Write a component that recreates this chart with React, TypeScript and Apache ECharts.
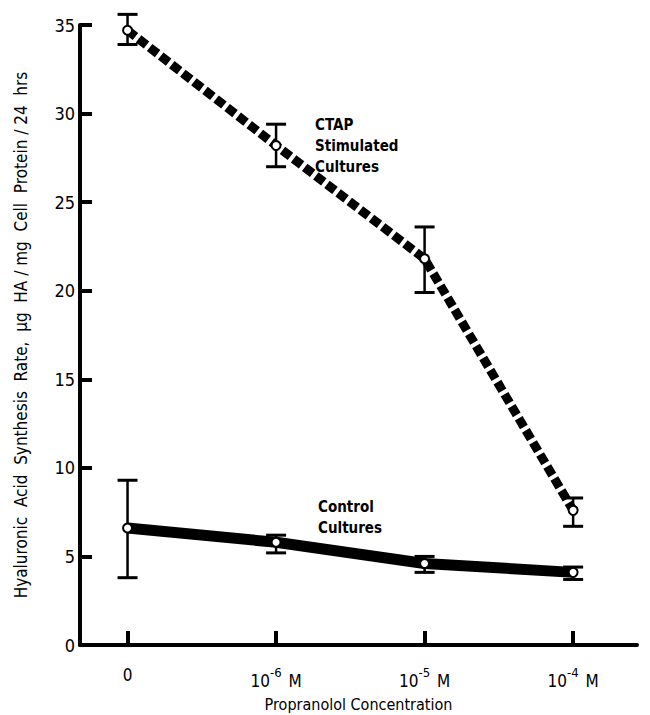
import React, { useEffect, useRef } from "react";
import * as echarts from "echarts";

const categories = ["0", "10^-6 M", "10^-5 M", "10^-4 M"];
const ctapMean = [34.7, 28.2, 21.8, 7.6];
const ctapLow = [33.9, 27.0, 19.9, 6.7];
const ctapHigh = [35.6, 29.4, 23.6, 8.3];
const ctrlMean = [6.6, 5.8, 4.6, 4.1];
const ctrlLow = [3.8, 5.2, 4.1, 3.7];
const ctrlHigh = [9.3, 6.2, 5.0, 4.4];
const yTicks = [0, 5, 10, 15, 20, 25, 30, 35];

const FONT = "'DejaVu Sans Condensed', 'Liberation Sans Narrow', 'DejaVu Sans', sans-serif";

export default function App() {
  const ref = useRef<HTMLDivElement>(null);
  useEffect(() => {
    const chart = echarts.init(ref.current!, null, { renderer: "svg" });
    const idx = categories.map((_, i) => i);
    const errData = [
      ...idx.map((i) => [i, ctapLow[i], ctapHigh[i]]),
      ...idx.map((i) => [i, ctrlLow[i], ctrlHigh[i]]),
    ];
    const labelFmt = (v: number) => {
      const c = categories[Math.round(v)];
      if (!c) return "";
      const m = c.match(/^10\^(-\d+) M$/);
      if (m) return "{b|10}{s|" + m[1] + "}{b| M}";
      return "{b|" + c + "}";
    };
    chart.setOption({
      animation: false,
      backgroundColor: "#fff",
      grid: { left: 72, right: 5, top: 17, bottom: 70, containLabel: false, outerBoundsMode: "none" },
      xAxis: {
        type: "value",
        min: -0.32,
        max: 3.43,
        splitLine: { show: false },
        axisLine: { show: true, lineStyle: { color: "#000", width: 4 } },
        axisTick: {
          show: true,
          customValues: [0, 1, 2, 3],
          inside: true,
          length: 14,
          lineStyle: { color: "#000", width: 4 },
        },
        axisLabel: {
          customValues: [0, 1, 2, 3],
          formatter: labelFmt,
          margin: 21,
          rich: {
            b: { fontFamily: FONT, fontSize: 17, color: "#000", verticalAlign: "bottom" },
            s: { fontFamily: FONT, fontSize: 13, color: "#000", verticalAlign: "top", padding: [0, 2, 10, 0] },
          },
        },
        name: "Propranolol Concentration",
        nameLocation: "middle",
        nameGap: 51,
        nameTextStyle: { fontFamily: FONT, fontSize: 16, color: "#000" },
      },
      yAxis: {
        type: "value",
        min: 0,
        max: 35,
        interval: 5,
        splitLine: { show: false },
        axisLine: { show: true, onZero: false, lineStyle: { color: "#000", width: 4 } },
        axisTick: { show: true, inside: true, length: 12, lineStyle: { color: "#000", width: 4 } },
        axisLabel: {
          fontFamily: FONT,
          fontSize: 18,
          color: "#000",
          margin: 5,
          formatter: (v: number) => (yTicks.includes(v) ? String(v) : ""),
        },
        name: "Hyaluronic  Acid  Synthesis  Rate,  \u03bcg  HA / mg  Cell  Protein / 24  hrs",
        nameLocation: "middle",
        nameGap: 51,
        nameTextStyle: { fontFamily: FONT, fontSize: 17, color: "#000" },
      },
      series: [
        {
          type: "line",
          data: idx.map((i) => [i, ctapMean[i]]),
          showSymbol: false,
          lineStyle: { color: "#000", width: 9, type: [10, 4], cap: "butt" },
          z: 2,
        },
        {
          type: "line",
          data: idx.map((i) => [i, ctrlMean[i]]),
          showSymbol: false,
          lineStyle: { color: "#000", width: 11 },
          z: 2,
        },
        {
          type: "custom",
          data: errData,
          z: 3,
          renderItem: (params: any, api: any) => {
            const x = api.value(0);
            const lo = api.coord([x, api.value(1)]);
            const hi = api.coord([x, api.value(2)]);
            const hw = 10;
            const st = { stroke: "#000", lineWidth: 2.5 };
            const cap = { stroke: "#000", lineWidth: 3 };
            return {
              type: "group",
              children: [
                { type: "line", shape: { x1: lo[0], y1: lo[1], x2: hi[0], y2: hi[1] }, style: st },
                { type: "line", shape: { x1: lo[0] - hw, y1: lo[1], x2: lo[0] + hw, y2: lo[1] }, style: cap },
                { type: "line", shape: { x1: hi[0] - hw, y1: hi[1], x2: hi[0] + hw, y2: hi[1] }, style: cap },
              ],
            };
          },
        },
        {
          type: "scatter",
          data: [...idx.map((i) => [i, ctapMean[i]]), ...idx.map((i) => [i, ctrlMean[i]])],
          symbol: "circle",
          symbolSize: 9,
          itemStyle: { color: "#fff", borderColor: "#000", borderWidth: 2, opacity: 1 },
          z: 5,
        },
      ],
      graphic: [
        {
          type: "text",
          left: 307,
          top: 106,
          z: 100,
          style: { text: "CTAP\nStimulated\nCultures", font: "bold 15px " + FONT, fill: "#000", lineHeight: 21 },
        },
        {
          type: "text",
          left: 310,
          top: 488,
          z: 100,
          style: { text: "Control\nCultures", font: "bold 15px " + FONT, fill: "#000", lineHeight: 21 },
        },
      ],
    });
    return () => chart.dispose();
  }, []);
  return <div ref={ref} style={{ width: 634, height: 707 }} />;
}
